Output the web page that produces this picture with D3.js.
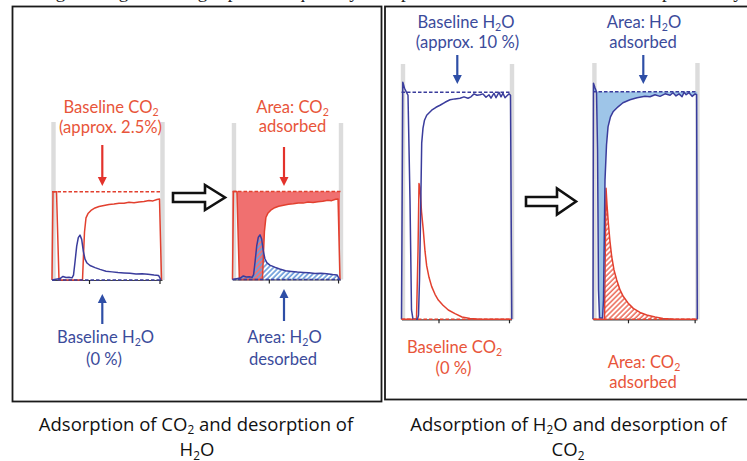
<!DOCTYPE html>
<html>
<head>
<meta charset="utf-8">
<script src="https://cdn.jsdelivr.net/npm/d3@7"></script>
<style>
  body { margin: 0; background: #fff; }
  svg { display: block; }
  text { font-variant-ligatures: none; }
</style>
</head>
<body>
<svg id="chart" width="747" height="461"></svg>
<script>
// ---- data -------------------------------------------------------------
// Shared time axis for all breakthrough traces (arbitrary time units)
const timeDomain = [0, 110];
const tickTimes = [37, 107.5];
const barTimes = [1.5, 110.5];       // grey switching markers at both ends

// Step 1: dry CO2 feed. CO2 outlet concentration (%), H2O released (%)
const co2BaselineStep1 = 2.5;
const co2Step1 = [[0,0],[1,2.5],[4.5,2.5],[7,0],[30.5,0],[31.5,0.71],[32.5,1.36],[34,1.76],[36,1.88],[39,1.97],[43,2.04],[47,2.08],[52,2.11],[57,2.14],[62,2.15],[67,2.17],[72,2.17],[77,2.2],[82,2.19],[87,2.21],[92,2.22],[97,2.25],[101,2.24],[105,2.28],[107.5,2.29],[109.5,0]];
const h2oStep1 = [[0,0],[4,0.02],[8,0.04],[11,0.1],[14,0.07],[17,0.08],[20,0.06],[21.5,0.14],[23,0.51],[24.7,0.96],[26.3,1.2],[28,1.27],[29.7,1.15],[31.3,0.82],[33,0.59],[35,0.48],[38,0.41],[43,0.35],[48,0.3],[54,0.25],[60,0.23],[66,0.21],[72,0.2],[78,0.19],[84,0.17],[90,0.18],[96,0.16],[102,0.14],[106.5,0.13],[109,0]];

// Step 2: humid feed. H2O outlet concentration (%), CO2 released (%)
const h2oBaselineStep2 = 10;
const h2oStep2 = [[0,0],[1.3,10.44],[3,10.18],[5,10],[6.5,9.87],[8.5,5.25],[10,0.41],[11.5,0],[16,0],[17,0.19],[18,1.73],[19,4.37],[20.2,7.76],[21.5,8.42],[23,8.77],[25.2,8.99],[30.2,9.21],[34.5,9.34],[38.5,9.43],[43.5,9.56],[48.5,9.67],[53.5,9.71],[58.5,9.74],[62.5,9.8],[66.5,9.74],[69.5,9.8],[72.5,9.93],[75.5,9.87],[78.5,9.89],[81.5,9.93],[84.5,9.78],[87.5,9.89],[89.5,9.74],[92.5,9.96],[94.5,9.76],[97.5,10],[99.5,9.8],[101.5,9.96],[103.5,9.76],[105.5,9.85],[107.5,9.93],[109,9.87],[110.3,0]];
const co2Step2 = [[0,0],[15,0],[16.5,2.99],[17.5,5.98],[18.5,5.8],[20,4.75],[21.8,3.93],[23.5,3],[25.2,2.35],[27.5,1.85],[30.2,1.44],[33.5,1.1],[36.8,0.85],[41.5,0.62],[46.8,0.41],[53.5,0.25],[60.5,0.1],[68.5,0.04],[78.5,0],[110.5,0]];
// Repeat of step 2 used for the integrated areas
const h2oStep2Area = [[0,0],[0.5,10.38],[2.1,10.18],[3.7,10],[4.8,7.45],[5.8,1.29],[6.9,0.06],[10.1,0.06],[11.1,0.85],[12.7,6.13],[14.3,7.67],[15.9,8.46],[18.5,8.9],[21.2,9.12],[26.5,9.34],[31.7,9.52],[39.1,9.65],[46.6,9.74],[55,9.8],[60.3,9.78],[65.6,9.87],[70.9,9.8],[76.2,9.91],[81.5,9.85],[84.6,9.96],[87.8,9.82],[91,9.91],[94.2,9.78],[96.3,9.98],[98.5,9.87],[101.6,9.96],[104.8,9.8],[108,9.91],[109.6,9.87],[110.3,0]];
const co2Step2Area = [[0,0],[12.2,0],[13,3.04],[13.8,5.76],[14.8,5.04],[16.2,4.24],[18,3.41],[19.8,2.75],[22.2,2.17],[25.1,1.73],[28.6,1.29],[32.1,1],[37,0.72],[42.6,0.48],[49.7,0.3],[56.8,0.19],[65.6,0.1],[74,0.04],[86.7,0],[110,0]];

// Text
const topLine = "Fig. 6  Integration of gas peaks to quantify the uptake of CO2 and H2O in each step of the cycle";
const captionLeft = ["Adsorption of CO_2 and desorption of", "H_2O"];
const captionRight = ["Adsorption of H_2O and desorption of", "CO_2"];
const labelsLeft = {
  baseCO2: ["Baseline CO_2", "(approx. 2.5%)"],
  areaCO2: ["Area: CO_2", "adsorbed"],
  baseH2O: ["Baseline H_2O", "(0 %)"],
  areaH2O: ["Area: H_2O", "desorbed"]
};
const labelsRight = {
  baseH2O: ["Baseline H_2O", "(approx. 10 %)"],
  areaH2O: ["Area: H_2O", "adsorbed"],
  baseCO2: ["Baseline CO_2", "(0 %)"],
  areaCO2: ["Area: CO_2", "adsorbed"]
};

// ---- styles -----------------------------------------------------------
const C = {
  redLine: "#e2402f", blueLine: "#3a3c9c",
  redText: "#e8553a", blueText: "#3b4b9b",
  redArrow: "#e3322b", blueArrow: "#2e4ea6",
  grey: "#dcdcdc", redFill: "#f07070", blueFill: "#9ec5e8",
  blueHatch: "#6c9ddb", redHatch: "#e8503c", frame: "#1a1a1a"
};
const sans = "Lato, 'Open Sans', 'DejaVu Sans', sans-serif";
const captionFont = "'Open Sans', Lato, 'DejaVu Sans', sans-serif";

const svg = d3.select("#chart");
svg.append("rect").attr("width", 747).attr("height", 461).attr("fill", "#fff");

const defs = svg.append("defs");
function hatch(id, color, w) {
  const p = defs.append("pattern").attr("id", id)
    .attr("patternUnits", "userSpaceOnUse").attr("width", 3.6).attr("height", 3.6)
    .attr("patternTransform", "rotate(45)");
  p.append("line").attr("x1", 1).attr("x2", 1).attr("y1", 0).attr("y2", 3.6)
    .attr("stroke", color).attr("stroke-width", w);
}
hatch("hatchBlue", C.blueHatch, 1.7);
hatch("hatchRed", C.redHatch, 1.3);

// text with chemical subscripts written as "_2"
function label(g, cx, y, str, color, size, family) {
  const t = g.append("text").attr("x", cx).attr("y", y)
    .attr("text-anchor", "middle").attr("fill", color)
    .style("font-family", family || sans).style("font-size", size + "px");
  const shift = size * 0.19;
  let lowered = false;
  str.split(/(_\d)/).filter(s => s.length).forEach(p => {
    if (p[0] === "_") {
      t.append("tspan").attr("dy", shift).style("font-size", (size * 0.64) + "px").text(p.slice(1));
      lowered = true;
    } else {
      const ts = t.append("tspan").text(p);
      if (lowered) { ts.attr("dy", -shift); lowered = false; }
    }
  });
  return t;
}

function arrow(g, x, yTail, yTip, color) {
  const dir = yTip > yTail ? 1 : -1;
  const head = 9, half = 4.5;
  g.append("line").attr("x1", x).attr("x2", x).attr("y1", yTail).attr("y2", yTip - dir * head * 0.8)
    .attr("stroke", color).attr("stroke-width", 2.2);
  g.append("path")
    .attr("d", `M${x - half},${yTip - dir * head} L${x + half},${yTip - dir * head} L${x},${yTip} Z`)
    .attr("fill", color);
}

function blockArrow(g, x0, xHead, xTip, cy, shaft, head) {
  g.append("path")
    .attr("d", `M${x0},${cy - shaft} L${xHead},${cy - shaft} L${xHead},${cy - head} L${xTip},${cy} L${xHead},${cy + head} L${xHead},${cy + shaft} L${x0},${cy + shaft} Z`)
    .attr("fill", "#fff").attr("stroke", "#111").attr("stroke-width", 2.6)
    .attr("stroke-linejoin", "miter");
}

// ---- one breakthrough panel -------------------------------------------
function plot(cfg) {
  const g = svg.append("g");
  const x = d3.scaleLinear(timeDomain, cfg.xRange);
  const y = d3.scaleLinear([0, cfg.yMax], cfg.yRange);

  barTimes.forEach(t => g.append("rect")
    .attr("x", x(t) - 2.2).attr("width", 4.4)
    .attr("y", cfg.barTop).attr("height", cfg.yRange[0] - cfg.barTop)
    .attr("fill", C.grey));

  if (cfg.fillAbove) {
    g.append("path").datum(cfg.fillAbove.data)
      .attr("d", d3.area().x(d => x(d[0])).y0(y(cfg.yMax)).y1(d => y(d[1])))
      .attr("fill", cfg.fillAbove.color);
  }
  if (cfg.hatchBelow) {
    g.append("path").datum(cfg.hatchBelow.data)
      .attr("d", d3.area().x(d => x(d[0])).y0(y(0)).y1(d => y(d[1])))
      .attr("fill", `url(#${cfg.hatchBelow.id})`);
  }

  const axis = g.append("g").attr("transform", `translate(0,${cfg.yRange[0]})`)
    .call(d3.axisBottom(x).tickValues(tickTimes).tickSize(4).tickSizeOuter(0).tickFormat(""));
  axis.select(".domain").attr("stroke", "#444").attr("stroke-width", 1.2);
  axis.selectAll(".tick line").attr("stroke", "#222").attr("stroke-width", 1.2);

  const line = d3.line().x(d => x(d[0])).y(d => y(d[1]));
  cfg.series.forEach(s => g.append("path").datum(s.data)
    .attr("d", line).attr("fill", "none")
    .attr("stroke", s.color).attr("stroke-width", 1.5).attr("stroke-linejoin", "round"));

  // reference levels
  cfg.refs.forEach(r => g.append("line")
    .attr("x1", x(timeDomain[0])).attr("x2", x(timeDomain[1]))
    .attr("y1", y(r.v)).attr("y2", y(r.v))
    .attr("stroke", r.color).attr("stroke-width", 1.4).attr("stroke-dasharray", "3.5,2"));
}

// ---- frames -----------------------------------------------------------
// caption line of the page above, mostly outside the view
svg.append("text").attr("x", 40).attr("y", -2)
  .style("font-family", "'Liberation Serif', serif").style("font-size", "19px")
  .attr("fill", "#222").text(topLine);
svg.append("rect").attr("x", 12.5).attr("y", 6.5).attr("width", 369).attr("height", 395)
  .attr("fill", "#fff").attr("stroke", C.frame).attr("stroke-width", 1.8);
svg.append("rect").attr("x", 385).attr("y", 6.5).attr("width", 370).attr("height", 393)
  .attr("fill", "#fff").attr("stroke", C.frame).attr("stroke-width", 1.8);

// ---- left panel: CO2 adsorption / H2O desorption ----------------------
plot({
  xRange: [52, 162], yRange: [280, 191.7], yMax: co2BaselineStep1, barTop: 122,
  series: [{ data: co2Step1, color: C.redLine }, { data: h2oStep1, color: C.blueLine }],
  refs: [{ v: co2BaselineStep1, color: C.redLine }, { v: 0, color: C.blueLine }]
});
plot({
  xRange: [232.5, 340.5], yRange: [279.5, 191.5], yMax: co2BaselineStep1, barTop: 123,
  fillAbove: { data: co2Step1, color: C.redFill },
  hatchBelow: { data: h2oStep1, id: "hatchBlue" },
  series: [{ data: co2Step1, color: C.redLine }, { data: h2oStep1, color: C.blueLine }],
  refs: [{ v: co2BaselineStep1, color: C.redLine }, { v: 0, color: C.blueLine }]
});

// ---- right panel: H2O adsorption / CO2 desorption ---------------------
plot({
  xRange: [401.5, 511.5], yRange: [319.3, 92.3], yMax: h2oBaselineStep2, barTop: 64,
  series: [{ data: co2Step2, color: C.redLine }, { data: h2oStep2, color: C.blueLine }],
  refs: [{ v: h2oBaselineStep2, color: C.blueLine }, { v: 0, color: C.redLine }]
});
plot({
  xRange: [593, 697], yRange: [319.3, 91.8], yMax: h2oBaselineStep2, barTop: 63,
  fillAbove: { data: h2oStep2Area, color: C.blueFill },
  hatchBelow: { data: co2Step2Area, id: "hatchRed" },
  series: [{ data: co2Step2Area, color: C.redLine }, { data: h2oStep2Area, color: C.blueLine }],
  refs: [{ v: h2oBaselineStep2, color: C.blueLine }, { v: 0, color: C.redLine }]
});

// ---- annotations ------------------------------------------------------
const ann = svg.append("g");
const fs = 16.6;
label(ann, 111, 112.5, labelsLeft.baseCO2[0], C.redText, fs);
label(ann, 110.5, 133, labelsLeft.baseCO2[1], C.redText, fs);
label(ann, 292.5, 112.5, labelsLeft.areaCO2[0], C.redText, fs);
label(ann, 292.5, 131.7, labelsLeft.areaCO2[1], C.redText, fs);
label(ann, 105.6, 342.7, labelsLeft.baseH2O[0], C.blueText, fs);
label(ann, 104, 364.5, labelsLeft.baseH2O[1], C.blueText, fs);
label(ann, 284.5, 342.7, labelsLeft.areaH2O[0], C.blueText, fs);
label(ann, 283, 364.5, labelsLeft.areaH2O[1], C.blueText, fs);

label(ann, 466, 28.3, labelsRight.baseH2O[0], C.blueText, fs);
label(ann, 467.5, 48.3, labelsRight.baseH2O[1], C.blueText, fs);
label(ann, 644, 28.3, labelsRight.areaH2O[0], C.blueText, fs);
label(ann, 643, 48.3, labelsRight.areaH2O[1], C.blueText, fs);
label(ann, 454.5, 352.7, labelsRight.baseCO2[0], C.redText, fs);
label(ann, 453.5, 373.5, labelsRight.baseCO2[1], C.redText, fs);
label(ann, 644, 368.3, labelsRight.areaCO2[0], C.redText, fs);
label(ann, 643, 388.3, labelsRight.areaCO2[1], C.redText, fs);

arrow(ann, 102.3, 145, 186, C.redArrow);
arrow(ann, 284, 147, 186, C.redArrow);
arrow(ann, 102.3, 324, 294, C.blueArrow);
arrow(ann, 284, 321, 289, C.blueArrow);
arrow(ann, 457.3, 55, 84, C.blueArrow);
arrow(ann, 643.3, 55, 84, C.blueArrow);

blockArrow(ann, 173, 205, 225, 197.5, 4.5, 12.5);
blockArrow(ann, 526, 557, 576, 201.5, 4.5, 13);

const capFs = 18.5;
label(ann, 196, 430.5, captionLeft[0], "#111", capFs, captionFont);
label(ann, 197, 456, captionLeft[1], "#111", capFs, captionFont);
label(ann, 568.5, 430.5, captionRight[0], "#111", capFs, captionFont);
label(ann, 568, 456, captionRight[1], "#111", capFs, captionFont);
</script>
</body>
</html>
